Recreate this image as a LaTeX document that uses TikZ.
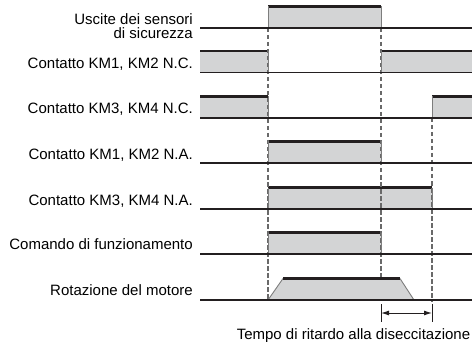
\documentclass[tikz,border=0pt]{standalone}
\usepackage{fontspec}
\setmainfont{Liberation Sans}
\usetikzlibrary{arrows.meta}

\definecolor{bandgray}{RGB}{211,212,213}
\definecolor{inkblack}{RGB}{35,31,32}
\definecolor{edgegray}{RGB}{125,125,125}
\definecolor{dashgray}{RGB}{105,105,105}

\tikzset{
  band/.style={fill=bandgray},
  bandtop/.style={draw=inkblack, line width=2.6pt},
  bandside/.style={draw=edgegray, line width=0.9pt},
  zeroline/.style={draw=inkblack, line width=1.3pt},
  guide/.style={draw=dashgray, line width=1.1pt, dash pattern=on 4.5pt off 2.5pt},
  sig/.style={anchor=base east, inner sep=0pt, font=\fontsize{15}{13.7}\selectfont},
}

% high level of a signal: x from, x to, top, bottom
\newcommand{\hiband}[4]{%
  \fill[band] (#1,#3) rectangle (#2,#4);
  \draw[bandtop] (#1,#3) -- (#2,#3);
}

\begin{document}
\begin{tikzpicture}[x=1pt,y=-1pt]
  \useasboundingbox (0,0) rectangle (474,342);

  % signal levels
  \hiband{268}{381}{6.5}{28}
  \hiband{200}{268}{51}{72.5}
  \hiband{381}{472}{51}{72.5}
  \hiband{200}{268}{96.5}{118}
  \hiband{432}{472}{96.5}{118}
  \hiband{268}{381}{141.5}{163}
  \hiband{268}{432}{187.5}{209}
  \hiband{268}{381}{232.5}{254}
  \fill[band] (268,300) -- (283,278.5) -- (400,278.5) -- (414,300) -- cycle;

  % guides
  \draw[guide] (268,28) -- (268,300);
  \draw[guide] (381,28) -- (381,278.5);
  \draw[guide] (432,118) -- (432,302);

  % edges
  \draw[bandside] (268,6.5) -- (268,28) (381,6.5) -- (381,28);
  \draw[bandside] (268,51) -- (268,72.5) (381,51) -- (381,72.5);
  \draw[bandside] (268,96.5) -- (268,118) (432,96.5) -- (432,118);
  \draw[bandside] (268,141.5) -- (268,163) (381,141.5) -- (381,163);
  \draw[bandside] (268,187.5) -- (268,209) (432,187.5) -- (432,209);
  \draw[bandside] (268,232.5) -- (268,254) (381,232.5) -- (381,254);
  \draw[bandside] (268,300) -- (283,278.5) (400,278.5) -- (414,300);
  \draw[bandtop] (283,278.5) -- (400,278.5);

  % zero lines
  \foreach \yb in {28,72.5,118,163,209,254,300}
    \draw[zeroline] (200,\yb) -- (472,\yb);

  % labels
  \node[sig, align=right, anchor=north east] (sens) at (193,13.5) {Uscite dei sensori\\di sicurezza};
  \node[sig] (nc12) at (193,68.5) {Contatto KM1, KM2 N.C.};
  \node[sig] (nc34) at (193,114) {Contatto KM3, KM4 N.C.};
  \node[sig] (na12) at (193,159.5) {Contatto KM1, KM2 N.A.};
  \node[sig] (na34) at (193,205) {Contatto KM3, KM4 N.A.};
  \node[sig] (cmd) at (193,249.5) {Comando di funzionamento};
  \node[sig] (rot) at (193,295.5) {Rotazione del motore};

  % delay time
  \coordinate (d1top) at (381,304);
  \coordinate (d1bot) at (381,322);
  \coordinate (d2top) at (432,304);
  \coordinate (d2bot) at (432,322);
  \coordinate (d1) at (381,313);
  \coordinate (d2) at (432,313);
  \draw[inkblack, line width=1pt] (d1top) -- (d1bot) (d2top) -- (d2bot);
  \draw[{Latex[length=8pt,width=5pt]}-{Latex[length=8pt,width=5pt]}, inkblack, line width=1pt] (d1) -- (d2);
  \node[sig, anchor=base] (delay) at (353.5,339) {Tempo di ritardo alla diseccitazione};
\end{tikzpicture}
\end{document}
